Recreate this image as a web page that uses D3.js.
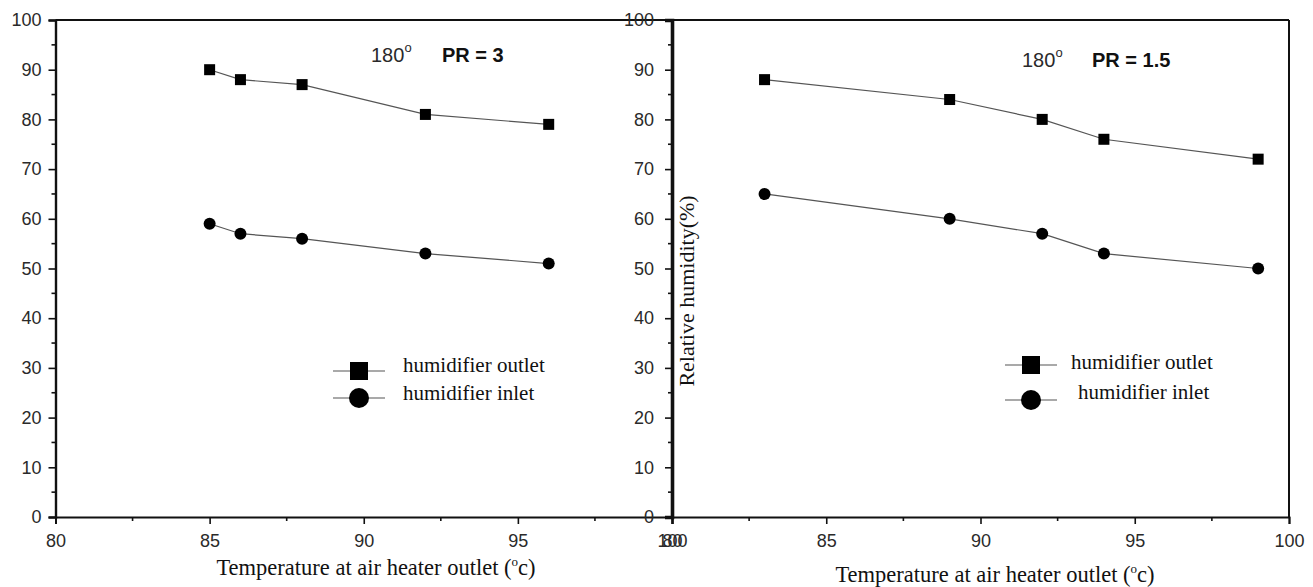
<!DOCTYPE html>
<html>
<head>
<meta charset="utf-8">
<script src="https://cdn.jsdelivr.net/npm/d3@7"></script>
<style>
  html, body { margin: 0; padding: 0; background: #fff; }
  svg { display: block; }
  .tick text { font-family: "Liberation Sans", Arial, sans-serif; font-size: 18px; fill: #2a2a2a; }
</style>
</head>
<body>
<svg id="chart" width="1313" height="587"></svg>
<script>
// Relative humidity vs air heater outlet temperature, two pressure ratios
const tempPR3   = [85, 86, 88, 92, 96];
const outletPR3 = [90, 88, 87, 81, 79];
const inletPR3  = [59, 57, 56, 53, 51];

const tempPR15   = [83, 89, 92, 94, 99];
const outletPR15 = [88, 84, 80, 76, 72];
const inletPR15  = [65, 60, 57, 53, 50];

const xTicks = [80, 85, 90, 95, 100];
const yTicks = [0, 10, 20, 30, 40, 50, 60, 70, 80, 90, 100];
const xMinor = [82.5, 87.5, 92.5, 97.5];
const yMinor = [5, 15, 25, 35, 45, 55, 65, 75, 85, 95];
const legendLabels = ["humidifier outlet", "humidifier inlet"];
const xTitle = "Temperature at air heater outlet (";
const yTitle = "Relative humidity(%)";

const svg = d3.select("#chart");
const plotTop = 20, plotBottom = 517;
const y = d3.scaleLinear().domain([0, 100]).range([plotBottom, plotTop]);
const serif = "Liberation Serif, Times New Roman, serif";
const sans = "Liberation Sans, Arial, sans-serif";

const panels = [
  { x0: 55.5, x1: 672, temp: tempPR3, outlet: outletPR3, inlet: inletPR3, pr: "PR = 3",
    annX: 371, prX: 442, annY: 62, legX: 333, legTextX: [403, 403], legY: [371, 398], legTY: [372, 400],
    titleX: 376, titleY: 575, rightBorder: false, yPad: 7, yAxisW: 2.4 },
  { x0: 672, x1: 1289, temp: tempPR15, outlet: outletPR15, inlet: inletPR15, pr: "PR = 1.5",
    annX: 1022, prX: 1092, annY: 67, legX: 1005, legTextX: [1071, 1078], legY: [365, 400], legTY: [369, 399],
    titleX: 995, titleY: 582, rightBorder: true, yPad: 11, yAxisW: 3.6 }
];

panels.forEach(p => {
  const x = d3.scaleLinear().domain([80, 100]).range([p.x0, p.x1]);
  const g = svg.append("g");

  // frame lines
  g.append("line").attr("x1", p.x0).attr("x2", p.x1).attr("y1", plotTop).attr("y2", plotTop)
    .attr("stroke", "#111").attr("stroke-width", 2);
  if (p.rightBorder) {
    g.append("line").attr("x1", p.x1).attr("x2", p.x1).attr("y1", plotTop).attr("y2", plotBottom)
      .attr("stroke", "#111").attr("stroke-width", 2);
  }

  // x axis
  const xa = g.append("g").attr("transform", `translate(0,${plotBottom})`)
    .call(d3.axisBottom(x).tickValues(xTicks).tickFormat(d3.format("d")).tickSizeOuter(0).tickSize(7).tickPadding(10));
  xa.select(".domain").attr("stroke", "#111").attr("stroke-width", 2);
  xa.selectAll(".tick line").attr("stroke", "#111").attr("stroke-width", 1.6);
  g.append("g").attr("transform", `translate(0,${plotBottom})`)
    .selectAll("line").data(xMinor).join("line")
    .attr("x1", d => x(d)).attr("x2", d => x(d)).attr("y1", 0).attr("y2", 4)
    .attr("stroke", "#111").attr("stroke-width", 1.6);

  // y axis
  const ya = g.append("g").attr("transform", `translate(${p.x0},0)`)
    .call(d3.axisLeft(y).tickValues(yTicks).tickSizeOuter(0).tickSize(7).tickPadding(p.yPad));
  ya.select(".domain").attr("stroke", "#111").attr("stroke-width", p.yAxisW);
  ya.selectAll(".tick line").attr("stroke", "#111").attr("stroke-width", 1.6);
  g.append("g").attr("transform", `translate(${p.x0},0)`)
    .selectAll("line").data(yMinor).join("line")
    .attr("x1", -4).attr("x2", 0).attr("y1", d => y(d)).attr("y2", d => y(d))
    .attr("stroke", "#111").attr("stroke-width", 1.6);

  // series
  const line = d3.line().x(d => x(d[0])).y(d => y(d[1]));
  const outletPts = p.temp.map((t, i) => [t, p.outlet[i]]);
  const inletPts = p.temp.map((t, i) => [t, p.inlet[i]]);
  [outletPts, inletPts].forEach(pts => {
    g.append("path").attr("d", line(pts)).attr("fill", "none")
      .attr("stroke", "#555").attr("stroke-width", 1.2);
  });
  g.selectAll("rect.mk").data(outletPts).join("rect").attr("class", "mk")
    .attr("x", d => x(d[0]) - 5.5).attr("y", d => y(d[1]) - 5.5)
    .attr("width", 11).attr("height", 11).attr("fill", "#000");
  g.selectAll("circle.mk").data(inletPts).join("circle").attr("class", "mk")
    .attr("cx", d => x(d[0])).attr("cy", d => y(d[1])).attr("r", 6).attr("fill", "#000");

  // annotation
  const ann = g.append("text").attr("x", p.annX).attr("y", p.annY)
    .attr("font-family", sans).attr("font-size", 20).attr("fill", "#2a2a2a");
  ann.append("tspan").text("180");
  ann.append("tspan").attr("font-size", 13).attr("dy", -10).text("o");
  g.append("text").attr("x", p.prX).attr("y", p.annY)
    .attr("font-family", sans).attr("font-size", 20)
    .attr("font-weight", "bold").attr("fill", "#111").text(p.pr);

  // legend
  legendLabels.forEach((lab, i) => {
    const ly = p.legY[i];
    g.append("line").attr("x1", p.legX).attr("x2", p.legX + 52).attr("y1", ly).attr("y2", ly)
      .attr("stroke", "#555").attr("stroke-width", 1.2);
    if (i === 0) {
      g.append("rect").attr("x", p.legX + 17).attr("y", ly - 9).attr("width", 18).attr("height", 18).attr("fill", "#000");
    } else {
      g.append("circle").attr("cx", p.legX + 26).attr("cy", ly).attr("r", 10).attr("fill", "#000");
    }
    g.append("text").attr("x", p.legTextX[i]).attr("y", p.legTY[i])
      .attr("font-family", serif).attr("font-size", 21)
      .attr("fill", "#111").text(lab);
  });

  // x axis title
  const xt = g.append("text").attr("x", p.titleX).attr("y", p.titleY).attr("text-anchor", "middle")
    .attr("font-family", serif).attr("font-size", 22.5).attr("fill", "#111");
  xt.append("tspan").text(xTitle);
  xt.append("tspan").attr("font-size", 13).attr("dy", -9).text("o");
  xt.append("tspan").attr("dy", 9).text("c)");
});

// y axis title for the right panel, sitting just inside its axis
svg.append("text").attr("transform", "translate(694,291) rotate(-90)")
  .attr("text-anchor", "middle")
  .attr("font-family", serif).attr("font-size", 22)
  .attr("fill", "#111").text(yTitle);
</script>
</body>
</html>
